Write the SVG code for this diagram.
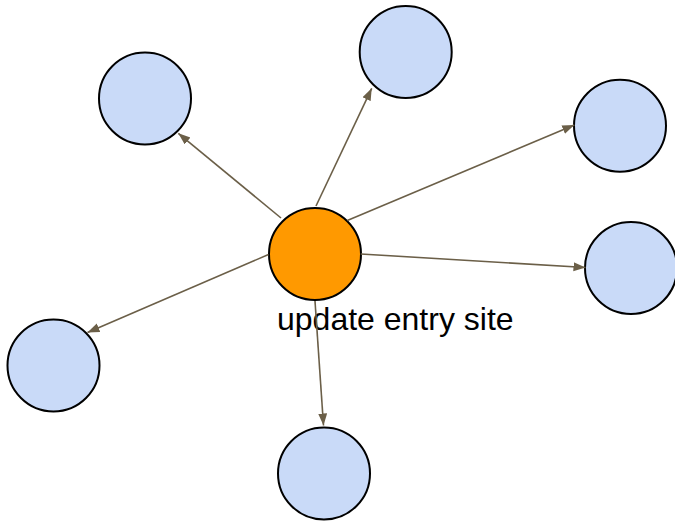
<svg xmlns="http://www.w3.org/2000/svg" width="675" height="523" viewBox="0 0 675 523">
  <style>
    .node { fill: #c9daf8; stroke: #000; stroke-width: 2; }
    .hub { fill: #ff9900; stroke: #000; stroke-width: 2; }
    .edge { stroke: #6b5f48; stroke-width: 1.6; fill: none; marker-end: url(#arrow); }
    .label { font-family: "Liberation Sans", Arial, sans-serif; font-size: 32px; fill: #000; }
  </style>
  <defs>
    <marker id="arrow" markerUnits="userSpaceOnUse" markerWidth="13" markerHeight="10" refX="12" refY="4.5" orient="auto">
      <path d="M0,0 L12,4.5 L0,9 z" fill="#6b5f48"/>
    </marker>
  </defs>
  <rect width="675" height="523" fill="#fff"/>

  <!-- outer nodes -->
  <g id="node-top-left"><circle class="node" cx="145" cy="98.5" r="46"/></g>
  <g id="node-top"><circle class="node" cx="405.7" cy="52" r="46"/></g>
  <g id="node-right-top"><circle class="node" cx="620" cy="125.7" r="46"/></g>
  <g id="node-right"><circle class="node" cx="631" cy="268" r="46"/></g>
  <g id="node-left"><circle class="node" cx="53.5" cy="365.5" r="46"/></g>
  <g id="node-bottom"><circle class="node" cx="324" cy="473.5" r="46"/></g>

  <!-- central node -->
  <g id="node-center">
    <circle class="hub" cx="315" cy="254" r="46"/>
    <text class="label" x="277" y="330">update entry site</text>
  </g>

  <!-- connectors -->
  <g id="connectors">
    <line class="edge" x1="281" y1="218" x2="178.3" y2="133.3"/>
    <line class="edge" x1="316" y1="206" x2="371.7" y2="88.3"/>
    <line class="edge" x1="347.3" y1="220.5" x2="574.3" y2="125"/>
    <line class="edge" x1="360.7" y1="254" x2="585.5" y2="267.5"/>
    <line class="edge" x1="268.5" y1="254.5" x2="87.5" y2="332.5"/>
    <line class="edge" x1="315" y1="301" x2="323.5" y2="425.5"/>
  </g>
</svg>
